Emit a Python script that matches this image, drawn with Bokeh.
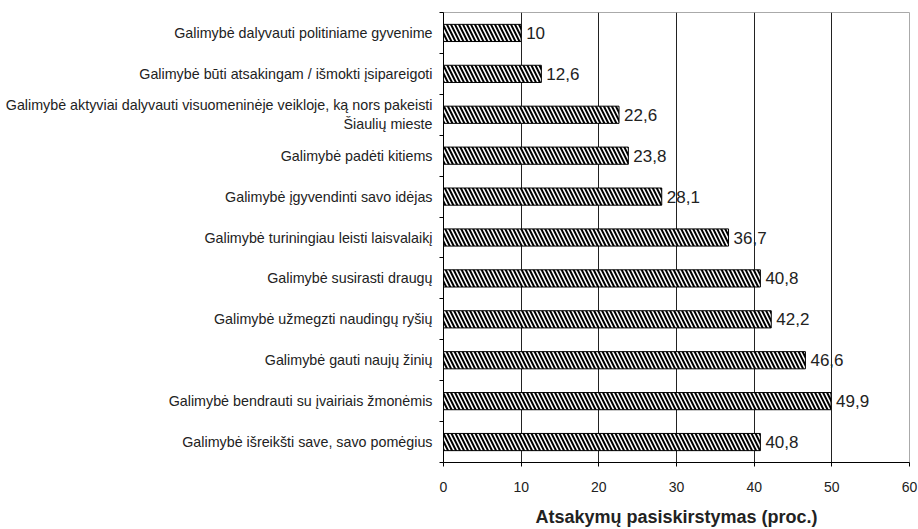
from bokeh.plotting import figure
from bokeh.models import FixedTicker, ColumnDataSource
from bokeh.core.properties import value
from bokeh.embed import file_html
from bokeh.resources import INLINE

categories = [
    "Galimybė dalyvauti politiniame gyvenime",
    "Galimybė būti atsakingam / išmokti įsipareigoti",
    "Galimybė aktyviai dalyvauti visuomeninėje veikloje, ką nors pakeisti\nŠiaulių mieste",
    "Galimybė padėti kitiems",
    "Galimybė įgyvendinti savo idėjas",
    "Galimybė turiningiau leisti laisvalaikį",
    "Galimybė susirasti draugų",
    "Galimybė užmegzti naudingų ryšių",
    "Galimybė gauti naujų žinių",
    "Galimybė bendrauti su įvairiais žmonėmis",
    "Galimybė išreikšti save, savo pomėgius",
]
values = [10, 12.6, 22.6, 23.8, 28.1, 36.7, 40.8, 42.2, 46.6, 49.9, 40.8]
x_ticks = [0, 10, 20, 30, 40, 50, 60]
x_label = "Atsakymų pasiskirstymas (proc.)"

n = len(categories)
ypos = [n - 1 - i for i in range(n)]
labels = [f"{v:g}".replace(".", ",") for v in values]

src = ColumnDataSource(dict(y=ypos, v=values, lab=labels))

p = figure(width=918, height=529, output_backend="svg", toolbar_location=None,
           x_range=(0, 60), y_range=(-0.5, n - 0.5),
           min_border_left=443, min_border_right=9, min_border_top=12, min_border_bottom=59)

p.hbar(y="y", right="v", left=0, height=0.42, source=src,
       fill_color="white", line_color="black", line_width=1,
       hatch_pattern="\\", hatch_color="black", hatch_scale=8, hatch_weight=2)

p.text(x="v", y="y", text="lab", source=src, x_offset=5,
       text_baseline="middle", text_align="left",
       text_font_size="17px", text_color="#222222", text_font=value("Liberation Sans"))

# axes
p.xaxis.ticker = FixedTicker(ticks=x_ticks)
p.xaxis.axis_label = x_label
p.xaxis.axis_label_text_font = "Liberation Sans"
p.xaxis.axis_label_text_font_style = "bold"
p.xaxis.axis_label_text_font_size = "18px"
p.xaxis.axis_label_text_color = "#222222"
p.xaxis.axis_label_standoff = 12
p.xaxis.major_label_text_font = "Liberation Sans"
p.xaxis.major_label_text_font_size = "14px"
p.xaxis.major_label_text_color = "#222222"
p.xaxis.major_label_standoff = 15
p.xaxis.major_tick_out = 4
p.xaxis.major_tick_in = 0
p.xaxis.minor_tick_out = 0
p.xaxis.minor_tick_in = 0
p.xaxis.axis_line_color = "black"
p.xaxis.major_tick_line_color = "black"

boundaries = [i - 0.5 for i in range(n + 1)]
p.yaxis.ticker = FixedTicker(ticks=ypos, minor_ticks=boundaries)
p.yaxis.major_label_overrides = {y: c for y, c in zip(ypos, categories)}
p.yaxis.major_label_text_font = "Liberation Sans"
p.yaxis.major_label_text_font_size = "14.3px"
p.yaxis.major_label_text_color = "#222222"
p.yaxis.major_label_standoff = 7
p.yaxis.major_tick_out = 0
p.yaxis.major_tick_in = 0
p.yaxis.minor_tick_out = 4
p.yaxis.minor_tick_in = 0
p.yaxis.minor_tick_line_color = "black"
p.yaxis.axis_line_color = "black"

p.ygrid.grid_line_color = None
p.xgrid.ticker = FixedTicker(ticks=[10, 20, 30, 40, 50])
p.xgrid.grid_line_color = "#222222"
p.xgrid.grid_line_width = 1

p.outline_line_color = "#aaaaaa"
p.background_fill_color = "white"

open("out.html", "w").write(file_html(p, INLINE))
